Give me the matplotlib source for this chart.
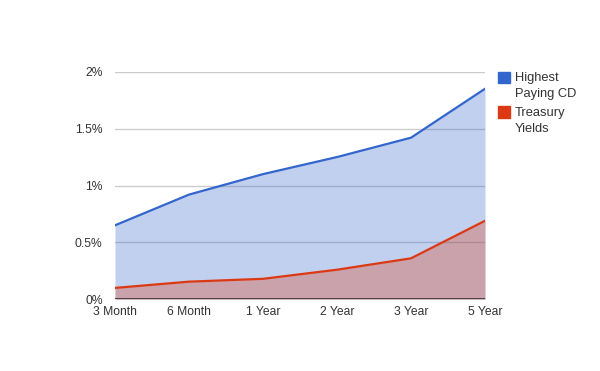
import matplotlib.pyplot as plt
from matplotlib.patches import Rectangle

categories = ["3 Month", "6 Month", "1 Year", "2 Year", "3 Year", "5 Year"]
cd_rates = [0.65, 0.92, 1.10, 1.25, 1.42, 1.85]
treasury = [0.10, 0.155, 0.18, 0.26, 0.36, 0.69]
ytick_vals = [0, 0.5, 1, 1.5, 2]
ytick_labels = ["0%", "0.5%", "1%", "1.5%", "2%"]

plt.rcParams['font.family'] = ['Liberation Sans', 'DejaVu Sans']

blue = "#3366cc"
red = "#dc3912"
txt = "#333333"

fig = plt.figure(figsize=(6, 3.71), dpi=100)
ax = fig.add_axes([115/600, (371-299.3)/371, 370/600, 227.6/371])

x = list(range(len(categories)))
ax.fill_between(x, 0, cd_rates, color=blue, alpha=0.3, linewidth=0, zorder=2)
ax.plot(x, cd_rates, color=blue, lw=1.6, zorder=3)
ax.fill_between(x, 0, treasury, color=red, alpha=0.3, linewidth=0, zorder=2)
ax.plot(x, treasury, color=red, lw=1.6, zorder=3)

ax.set_xlim(0, len(categories) - 1)
ax.set_ylim(0, 2)
ax.set_yticks(ytick_vals)
ax.set_yticklabels(ytick_labels)
ax.set_xticks(x)
ax.set_xticklabels(categories)
for v in ytick_vals[1:]:
    ax.axhline(v, color="#cccccc", lw=1, zorder=1)
ax.axhline(0, color="#333333", lw=1.2, zorder=4)

for s in ax.spines.values():
    s.set_visible(False)
ax.tick_params(length=0, labelsize=8.7, colors=txt)
ax.tick_params(axis='y', pad=9)
ax.tick_params(axis='x', pad=5)

# legend
items = [("Highest\nPaying CD", blue, 71.7), ("Treasury\nYields", red, 106.5)]
for label, col, ytop in items:
    fig.patches.append(Rectangle((498/600, 1 - (ytop + 11.5)/371), 11.5/600, 11.5/371,
                                 transform=fig.transFigure, color=col, figure=fig))
    fig.text(515/600, 1 - (ytop + 0.5)/371, label, fontsize=9.3, color=txt,
             va="top", ha="left", linespacing=1.45)

fig.savefig("out.png", dpi=100)
